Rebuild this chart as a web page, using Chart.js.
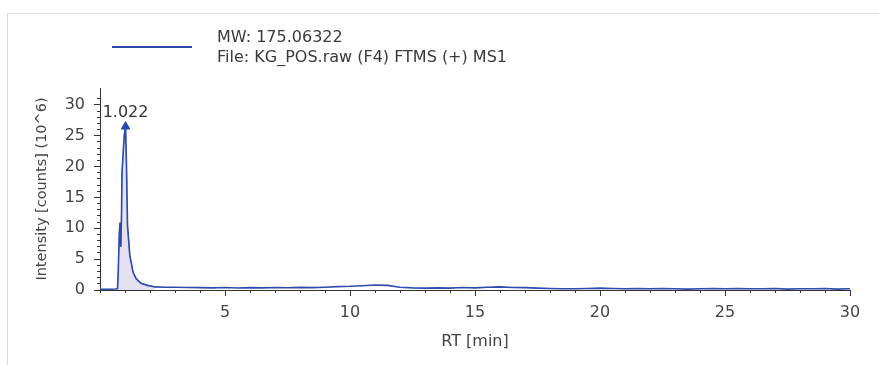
<!DOCTYPE html>
<html>
<head>
<meta charset="utf-8">
<script src="https://cdn.jsdelivr.net/npm/chart.js@4.4.1/dist/chart.umd.min.js"></script>
<style>
    body { margin: 0; background: #fff; }
    #wrap { position: relative; width: 879px; height: 365px; overflow: hidden; }
    #frame { position: absolute; left: 7px; top: 13px; right: -2px; bottom: -2px; border-top: 1px solid #dcdcdc; border-left: 1px solid #dcdcdc; }
    #grafico { position: absolute; left: 0; top: 0; }
    #legenda { position: absolute; left: 112px; top: 27px; font-family: "DejaVu Sans", sans-serif; font-size: 16px; color: #3a3a3a; }
    #legenda .linha { position: absolute; left: 0; top: 19px; width: 80px; height: 2px; background: #2d4bae; }
    #legenda .txt { position: absolute; left: 105px; top: 0; white-space: nowrap; line-height: 20px; }
</style>
</head>
<body>
<div id="wrap">
    <div id="frame"></div>
    <canvas id="grafico" width="879" height="365"></canvas>
    <div id="legenda">
        <div class="linha"></div>
        <div class="txt" id="legendaTexto"></div>
    </div>
</div>
<script>
// tempos de retencao (min) e intensidade (10^6 counts)
var rtMin = [0.0, 0.3, 0.6, 0.7, 0.73, 0.77, 0.8, 0.83, 0.86, 0.88, 0.93, 0.97, 1.022, 1.06, 1.1, 1.19,
    1.32, 1.45, 1.64, 1.9, 2.2, 2.6,
    3.0, 3.5, 4.0, 4.5, 5.0, 5.5, 6.0, 6.5, 7.0, 7.5, 8.0, 8.5, 9.0, 9.5, 10.0, 10.5, 11.0, 11.5, 12.0, 12.5,
    13.0, 13.5, 14.0, 14.5, 15.0, 15.5, 16.0, 16.5, 17.0, 17.5, 18.0, 18.5, 19.0, 19.5, 20.0, 20.5, 21.0, 21.5,
    22.0, 22.5, 23.0, 23.5, 24.0, 24.5, 25.0, 25.5, 26.0, 26.5, 27.0, 27.5, 28.0, 28.5, 29.0, 29.5, 30.0];
var intensidade = [0.1, 0.1, 0.15, 0.2, 3, 9, 10.9, 7, 12, 19, 22.5, 25, 26.5, 20, 10.5, 5.7,
    2.9, 1.8, 1.1, 0.75, 0.5, 0.45,
    0.45, 0.4, 0.38, 0.35, 0.4, 0.33, 0.38, 0.35, 0.4, 0.36, 0.42, 0.38, 0.45, 0.55, 0.6, 0.7, 0.8, 0.75, 0.45, 0.35,
    0.3, 0.35, 0.3, 0.4, 0.35, 0.45, 0.5, 0.4, 0.38, 0.3, 0.25, 0.2, 0.2, 0.25, 0.3, 0.25, 0.2, 0.25,
    0.2, 0.25, 0.2, 0.15, 0.2, 0.25, 0.2, 0.25, 0.2, 0.2, 0.25, 0.15, 0.2, 0.2, 0.25, 0.15, 0.2];

var picoRt = 1.022;
var picoIntensidade = 26.5;
var inicioAreaRt = 0.7;
var fimAreaRt = 2.2;

var xTicks = [5, 10, 15, 20, 25, 30];
var yTicks = [0, 5, 10, 15, 20, 25, 30];

var legendaLinhas = ['MW: 175.06322', 'File: KG_POS.raw (F4) FTMS (+) MS1'];

document.getElementById('legendaTexto').innerHTML = legendaLinhas.join('<br>');

const corLinha = '#2d4bae';
const fonte = "'DejaVu Sans', sans-serif";

const pontos = rtMin.map((rt, i) => ({ x: rt, y: intensidade[i] }));
const pontosArea = pontos.filter(p => p.x >= inicioAreaRt && p.x <= fimAreaRt);

const rotuloPico = {
    id: 'rotuloPico',
    afterDatasetsDraw(chart) {
        const meta = chart.getDatasetMeta(2);
        const ponto = meta.data[0];
        const ctx = chart.ctx;
        ctx.save();
        ctx.font = '16px ' + fonte;
        ctx.fillStyle = '#333';
        ctx.textAlign = 'center';
        ctx.textBaseline = 'bottom';
        ctx.fillText(picoRt.toFixed(3), ponto.x, ponto.y - 6);
        ctx.restore();
    }
};

const config = {
    type: 'line',
    data: {
        datasets: [{
            label: 'area',
            data: pontosArea,
            fill: 'origin',
            borderColor: 'rgba(130,130,140,0.8)',
            borderWidth: 1,
            backgroundColor: 'rgba(195,190,225,0.45)',
            pointRadius: 0,
            tension: 0,
            order: 3
        }, {
            label: legendaLinhas[0],
            data: pontos,
            fill: false,
            borderColor: corLinha,
            borderWidth: 1.6,
            pointRadius: 0,
            tension: 0,
            order: 2
        }, {
            label: 'pico',
            data: [{ x: picoRt, y: picoIntensidade }],
            showLine: false,
            pointStyle: 'triangle',
            pointRadius: 5,
            backgroundColor: corLinha,
            borderColor: corLinha,
            order: 1
        }]
    },
    options: {
        responsive: false,
        animation: false,
        devicePixelRatio: 1,
        layout: {
            padding: { top: 88, right: 29, left: 0, bottom: 0 }
        },
        plugins: {
            legend: { display: false },
            tooltip: { enabled: false }
        },
        scales: {
            x: {
                type: 'linear',
                position: 'bottom',
                weight: 1,
                min: 0,
                max: 30,
                afterBuildTicks: (scale) => { scale.ticks = xTicks.map(v => ({ value: v })); },
                afterFit: (scale) => { scale.height = 75; },
                grid: { drawOnChartArea: false, tickLength: 6, tickColor: '#333' },
                border: { color: '#333', width: 1 },
                ticks: { color: '#444', font: { family: fonte, size: 16 }, padding: 7, maxRotation: 0 },
                title: {
                    display: true,
                    text: 'RT [min]',
                    color: '#444',
                    font: { family: fonte, size: 16 },
                    padding: { top: 0, bottom: 14 }
                }
            },
            xMenor: {
                type: 'linear',
                position: 'bottom',
                weight: 0,
                min: 0,
                max: 30,
                afterFit: (scale) => { scale.height = 0; },
                grid: { drawOnChartArea: false, tickLength: 3, tickColor: '#333' },
                border: { display: false },
                ticks: { display: false, stepSize: 1 }
            },
            y: {
                type: 'linear',
                position: 'left',
                weight: 1,
                min: 0,
                max: 32.75,
                afterBuildTicks: (scale) => { scale.ticks = yTicks.map(v => ({ value: v })); },
                afterFit: (scale) => { scale.width = 100; },
                grid: { drawOnChartArea: false, tickLength: 6, tickColor: '#333' },
                border: { color: '#333', width: 1 },
                ticks: { color: '#444', font: { family: fonte, size: 16 }, padding: 9 },
                title: {
                    display: true,
                    text: 'Intensity [counts] (10^6)',
                    color: '#444',
                    font: { family: fonte, size: 14.5 },
                    padding: { top: 34, bottom: 0 }
                }
            },
            yMenor: {
                type: 'linear',
                position: 'left',
                weight: 0,
                min: 0,
                max: 32.75,
                afterBuildTicks: (scale) => { scale.ticks = scale.ticks.filter(t => Number.isInteger(t.value)); },
                afterFit: (scale) => { scale.width = 0; },
                grid: { drawOnChartArea: false, tickLength: 3, tickColor: '#333' },
                border: { display: false },
                ticks: { display: false, stepSize: 1 }
            }
        }
    },
    plugins: [rotuloPico]
};

const myChart = new Chart(document.getElementById('grafico'), config);
</script>
</body>
</html>
